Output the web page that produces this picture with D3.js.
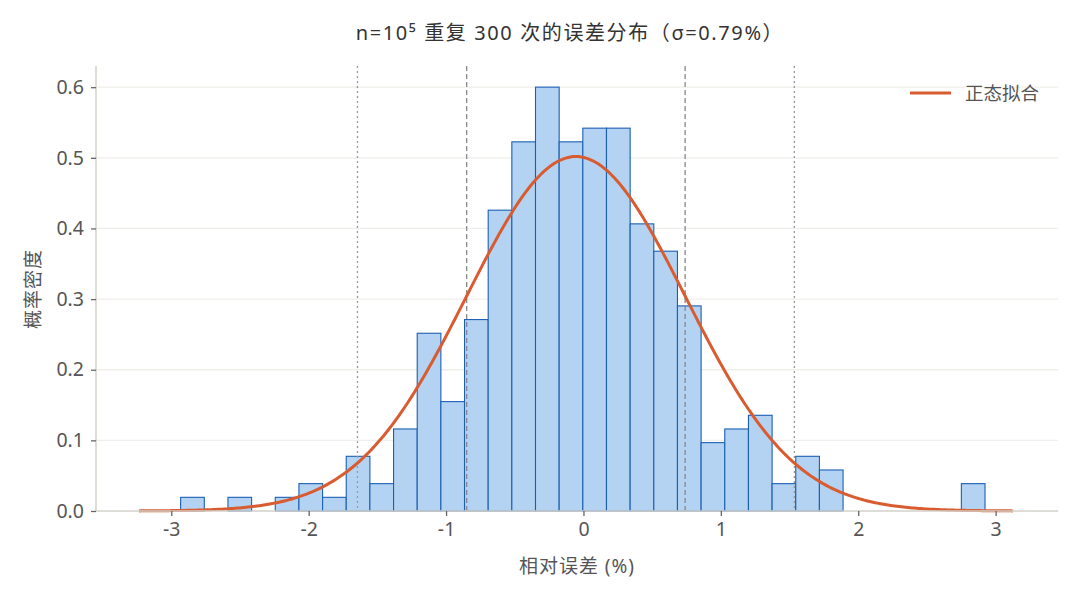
<!DOCTYPE html>
<html><head><meta charset="utf-8">
<script src="https://cdn.jsdelivr.net/npm/d3@7/dist/d3.min.js"></script>
<style>
body{margin:0;background:#fff;}
text{font-family:"Noto Sans","Noto Sans CJK SC",sans-serif;}
</style></head>
<body><svg id="c" width="1080" height="600"></svg>
<script>
const titleText = "n=10⁵ 重复 300 次的误差分布（σ=0.79%）";
const xLabel = "相对误差 (%)";
const yLabel = "概率密度";
const legendLabel = "正态拟合";
const sampleCount = 300;
const binStart = -2.932;
const binWidth = 0.1722;
const binCounts = [1,0,1,0,1,2,1,4,2,6,13,8,14,22,27,31,27,28,28,21,19,15,5,6,7,2,4,3,0,0,0,0,0,2];
const fitMean = -0.055;
const fitSigma = 0.795;
const xTicks = [-3,-2,-1,0,1,2,3];
const yTicks = [0,0.1,0.2,0.3,0.4,0.5,0.6];
const xDomain = [-3.548, 3.454];
const yDomain = [0, 0.63];

const svg = d3.select("#c");
const L=96, R=1058, T=66, B=511;
const x = d3.scaleLinear().domain(xDomain).range([L,R]);
const y = d3.scaleLinear().domain(yDomain).range([B,T]);

// grid
svg.append("g").selectAll("line").data(yTicks.slice(1)).join("line")
  .attr("x1",L).attr("x2",R).attr("y1",d=>y(d)).attr("y2",d=>y(d))
  .attr("stroke","#efeeea").attr("stroke-width",1.3);

// bars
const bins = binCounts.map((c,i)=>({x0:binStart+i*binWidth,x1:binStart+(i+1)*binWidth,d:c/(sampleCount*binWidth)}));
svg.append("g").selectAll("rect").data(bins.filter(b=>b.d>0)).join("rect")
  .attr("x",b=>x(b.x0)).attr("width",b=>x(b.x1)-x(b.x0))
  .attr("y",b=>y(b.d)).attr("height",b=>y(0)-y(b.d))
  .attr("fill","#b4d3f2").attr("stroke","#1b5fb3").attr("stroke-width",1.1);

// sigma lines
const sig = [{k:-2,dash:"2,3",c:"#999"},{k:-1,dash:"5,3",c:"#888"},{k:1,dash:"5,3",c:"#888"},{k:2,dash:"2,3",c:"#999"}];
svg.append("g").selectAll("line").data(sig).join("line")
  .attr("x1",d=>x(fitMean+d.k*fitSigma)).attr("x2",d=>x(fitMean+d.k*fitSigma))
  .attr("y1",T).attr("y2",B).attr("stroke",d=>d.c).attr("stroke-width",1.3)
  .attr("stroke-dasharray",d=>d.dash);

// normal fit
const pdf = v => Math.exp(-0.5*((v-fitMean)/fitSigma)**2)/(fitSigma*Math.sqrt(2*Math.PI));
const xs = d3.range(0,401).map(i=>fitMean-4*fitSigma+i*(8*fitSigma/400));
svg.append("path").datum(xs)
  .attr("d",d3.line().x(v=>x(v)).y(v=>y(pdf(v))))
  .attr("fill","none").attr("stroke","#d95b30").attr("stroke-width",3);

// axes
const gx = svg.append("g").attr("transform",`translate(0,${B})`)
  .call(d3.axisBottom(x).tickValues(xTicks).tickSize(5).tickPadding(6).tickFormat(d=>String(d)));
const gy = svg.append("g").attr("transform",`translate(${L},0)`)
  .call(d3.axisLeft(y).tickValues(yTicks).tickSize(5).tickPadding(7).tickFormat(d3.format(".1f")));
[gx,gy].forEach(g=>{
  g.select(".domain").attr("stroke","#d3d0c8").attr("stroke-width",1.5);
  g.selectAll(".tick line").attr("stroke","#666").attr("stroke-width",1.3);
  g.selectAll(".tick text").attr("fill","#555").attr("font-size",19.5);
});
gy.select(".domain").attr("d",`M0,${T}V${B}`);
gx.select(".domain").attr("d",`M${L},0H${R}`);

// labels
svg.append("text").attr("x",570).attr("y",40).attr("text-anchor","middle")
  .attr("font-size",20).attr("letter-spacing",1.6).attr("fill","#333").text(titleText);
svg.append("text").attr("x",577).attr("y",573).attr("text-anchor","middle")
  .attr("font-size",19).attr("letter-spacing",1).attr("fill","#555").text(xLabel);
svg.append("text").attr("transform","translate(40,289) rotate(-90)").attr("text-anchor","middle")
  .attr("font-size",19).attr("letter-spacing",1).attr("fill","#555").text(yLabel);

// legend
svg.append("line").attr("x1",910).attr("x2",951).attr("y1",93).attr("y2",93)
  .attr("stroke","#d95b30").attr("stroke-width",3);
svg.append("text").attr("x",965).attr("y",100).attr("font-size",18.5).attr("fill","#555").text(legendLabel);
</script></body></html>
